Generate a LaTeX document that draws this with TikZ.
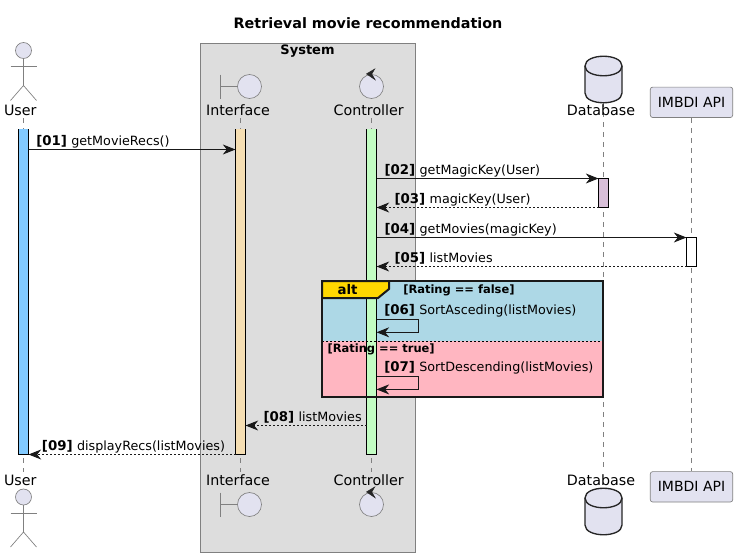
\documentclass[tikz,border=0pt]{standalone}
\usepackage{fontspec}
\setmainfont{DejaVu Sans}
\usetikzlibrary{arrows.meta}
\definecolor{headfill}{HTML}{E2E2F0}
\definecolor{boxfill}{HTML}{DDDDDD}
\definecolor{userbar}{HTML}{82CAFF}
\definecolor{ifacebar}{HTML}{F5DEB3}
\definecolor{ctrlbar}{HTML}{C3FDC3}
\definecolor{dbbar}{HTML}{D8BFD8}
\definecolor{altblue}{HTML}{ADD8E6}
\definecolor{altpink}{HTML}{FFB6C1}
\definecolor{alttag}{HTML}{FFD700}
\tikzset{
  msgline/.style={black!90, line width=.8pt, -{Stealth[length=9.5pt,width=7.5pt,inset=3pt]}},
  retline/.style={msgline, dash pattern=on 1.5pt off 1.5pt},
  lifeline/.style={gray, line width=.5pt, dash pattern=on 3.75pt off 3.75pt},
  actorline/.style={gray, line width=.5pt},
  barline/.style={black, line width=.8pt},
  framed/.style={draw=black!90, line width=1.5pt},
  headlabel/.style={font=\fontsize{10.7}{12}\selectfont, inner sep=0pt},
  msglabel/.style={font=\fontsize{9.55}{12}\selectfont, anchor=base west, inner sep=0pt},
  grouplabel/.style={font=\fontsize{8.6}{10}\selectfont\bfseries, anchor=base west, inner sep=0pt},
  actbar/.style={minimum width=7.5pt, inner sep=0pt, outer sep=0pt},
  apibox/.style={draw=gray, fill=headfill, line width=.5pt, rounded corners=1.8pt, inner sep=0pt,
    minimum width=61.8pt, minimum height=22.8pt, font=\fontsize{10.5}{12}\selectfont}
}
\newcommand{\idx}[1]{{\fontsize{10}{12}\selectfont\bfseries [#1]}\hspace{.2pt}}
% stick figure, top of head at #2
\newcommand{\actorfig}[2]{
  \draw [actorline, fill=headfill] (#1,#2+8) circle (8);
  \draw [actorline] (#1,#2+16) -- (#1,#2+43);
  \draw [actorline] (#1-13,#2+24) -- (#1+13,#2+24);
  \draw [actorline] (#1-13,#2+58) -- (#1,#2+43) -- (#1+13,#2+58);
}
% boundary symbol, centre of circle at #2
\newcommand{\boundaryfig}[2]{
  \draw [actorline] (#1-29,#2-12) -- (#1-29,#2+12);
  \draw [actorline] (#1-29,#2) -- (#1-12,#2);
  \draw [actorline, fill=headfill] (#1,#2) circle (12);
}
% control symbol, centre of circle at #2
\newcommand{\controlfig}[2]{
  \draw [actorline, fill=headfill] (#1,#2) circle (12);
  \filldraw [black!85, line width=.4pt] (#1-5,#2-12.6) -- (#1+3.2,#2-17.5) -- (#1+.2,#2-12.4) -- (#1+3.6,#2-6.8) -- cycle;
}
% database symbol, top at #2
\newcommand{\dbfig}[2]{
  \draw [black!85, fill=headfill, line width=1pt] (#1-18.5,#2+10)
    .. controls (#1-18.5,#2-3) and (#1+18.5,#2-3) .. (#1+18.5,#2+10)
    -- (#1+18.5,#2+37)
    .. controls (#1+18.5,#2+50) and (#1-18.5,#2+50) .. (#1-18.5,#2+37) -- cycle;
  \draw [black!85, line width=1pt] (#1-18.5,#2+10)
    .. controls (#1-18.5,#2+23) and (#1+18.5,#2+23) .. (#1+18.5,#2+10);
}
\begin{document}
\begin{tikzpicture}[x=.75pt, y=-.75pt]
\useasboundingbox (0,0) rectangle (737,557);
\fill [white] (0,0) rectangle (737,557);
\node (title) [font=\fontsize{10.75}{12}\selectfont\bfseries, inner sep=0pt] at (368,23) {Retrieval movie recommendation};
% system box
\draw [gray, fill=boxfill, line width=.7pt] (200.5,43.5) rectangle (415.5,552.5);
\node (system) [font=\fontsize{9.75}{12}\selectfont\bfseries, inner sep=0pt] at (307.5,51.5) {System};
% lifelines
\coordinate (userTop) at (23.5,118);
\coordinate (userEnd) at (23.5,472);
\coordinate (ifaceTop) at (240.5,118);
\coordinate (ifaceEnd) at (240.5,472);
\coordinate (ctrlTop) at (371.5,118);
\coordinate (ctrlEnd) at (371.5,472);
\coordinate (dbTop) at (603.5,102);
\coordinate (dbEnd) at (603.5,472);
\draw [lifeline] (userTop) -- (userEnd);
\draw [lifeline] (ifaceTop) -- (ifaceEnd);
\draw [lifeline] (ctrlTop) -- (ctrlEnd);
\draw [lifeline] (dbTop) -- (dbEnd);
% heads and feet
\actorfig{23.5}{42.5}
\actorfig{23.5}{489}
\node (userHead) [headlabel] at (20.3,110) {User};
\node (userFoot) [headlabel] at (20.3,480) {User};
\boundaryfig{249.5}{86.5}
\boundaryfig{249.5}{504.5}
\node (ifaceHead) [headlabel] at (238,110) {Interface};
\node (ifaceFoot) [headlabel] at (238,480) {Interface};
\controlfig{371.5}{86.5}
\controlfig{371.5}{504.5}
\node (ctrlHead) [headlabel] at (368.7,110) {Controller};
\node (ctrlFoot) [headlabel] at (368.7,480) {Controller};
\dbfig{603.5}{56}
\dbfig{603.5}{488}
\node (dbHead) [headlabel] at (601,110) {Database};
\node (dbFoot) [headlabel] at (601,480) {Database};
\node (apiHead) [apibox] at (691.5,102.3) {IMBDI API};
\node (apiFoot) [apibox] at (691.5,486.8) {IMBDI API};
\draw [lifeline] (apiHead) -- (apiFoot);
% alt group fills
\fill [altblue] (322,281) rectangle (603,341);
\fill [altpink] (322,341) rectangle (603,397);
% activations
\node (userBar) [actbar, fill=userbar, minimum height=244.1pt] at (23.5,291.75) {};
\node (ifaceBar) [actbar, fill=ifacebar, minimum height=244.1pt] at (240.5,291.75) {};
\node (ctrlBar) [actbar, fill=ctrlbar, minimum height=244.1pt] at (371.5,291.75) {};
\node (dbBar) [actbar, draw=black, line width=.8pt, fill=dbbar, minimum height=21.75pt] at (603.5,193) {};
\node (apiBar) [actbar, draw=black, line width=.8pt, fill=white, minimum height=21.75pt] at (691.5,252) {};
\foreach \b in {userBar,ifaceBar,ctrlBar}
  \draw [barline] (\b.north west) -- (\b.south west) -- (\b.south east) -- (\b.north east);
% alt group frame
\draw [black, line width=.5pt, dash pattern=on 1.5pt off 1.5pt] (322,341) -- (603,341);
\draw [framed, fill=alttag] (322,281) -- (389,281) -- (389,289) -- (378,298) -- (322,298) -- cycle;
\draw [framed] (322,281) -- (603,281) -- (603,397) -- (322,397) -- cycle;
\node (altTag) [font=\fontsize{10}{12}\selectfont\bfseries, anchor=base, inner sep=0pt] at (347.5,294) {alt};
\node (ratingFalse) [grouplabel] at (403,293) {[Rating == false]};
\node (ratingTrue) [grouplabel] at (327.3,352.3) {[Rating == true]};
% messages
\coordinate (m01) at (0,149.5);
\coordinate (m06a) at (418.7,319.5);
\coordinate (m06b) at (418.7,332.3);
\coordinate (m07a) at (418.7,376.7);
\coordinate (m07b) at (418.7,389.4);
\coordinate (m08) at (0,425.5);
\draw [msgline] (userBar.east |- m01) -- (ifaceBar.west |- m01);
\draw [msgline] (ctrlBar.east |- dbBar.north) -- (dbBar.north west);
\draw [retline] (dbBar.south west) -- (ctrlBar.east |- dbBar.south);
\draw [msgline] (ctrlBar.east |- apiBar.north) -- (apiBar.north west);
\draw [retline] (apiBar.south west) -- (ctrlBar.east |- apiBar.south);
\draw [msgline] (ctrlBar.east |- m06a) -- (m06a) -- (m06b) -- (ctrlBar.east |- m06b);
\draw [msgline] (ctrlBar.east |- m07a) -- (m07a) -- (m07b) -- (ctrlBar.east |- m07b);
\draw [retline] (ctrlBar.west |- m08) -- (ifaceBar.east |- m08);
\draw [retline] (ifaceBar.south west) -- (userBar.south east);
\node (t01) [msglabel] at (36,145) {\idx{01} getMovieRecs()};
\node (t02) [msglabel] at (384.3,174) {\idx{02} getMagicKey(User)};
\node (t03) [msglabel] at (394.3,203) {\idx{03} magicKey(User)};
\node (t04) [msglabel] at (384.3,233) {\idx{04} getMovies(magicKey)};
\node (t05) [msglabel] at (394.3,262) {\idx{05} listMovies};
\node (t06) [msglabel] at (384,314) {\idx{06} SortAsceding(listMovies)};
\node (t07) [msglabel] at (384,371) {\idx{07} SortDescending(listMovies)};
\node (t08) [msglabel] at (263.3,421) {\idx{08} listMovies};
\node (t09) [msglabel] at (41.7,450) {\idx{09} displayRecs(listMovies)};
\end{tikzpicture}
\end{document}
